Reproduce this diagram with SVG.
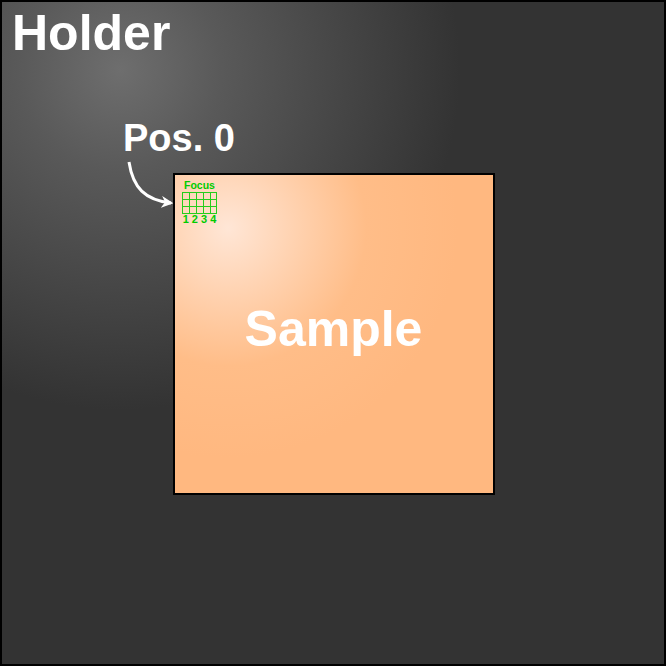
<svg xmlns="http://www.w3.org/2000/svg" width="667" height="667" viewBox="0 0 667 667">
<style>
.big{font-family:"Liberation Sans",Arial,sans-serif;font-weight:bold;fill:#ffffff}
.grn{font-family:"Liberation Sans",Arial,sans-serif;font-weight:bold;fill:#00cc00}
.grid{stroke:#00cc00;stroke-width:1;fill:none;opacity:0.85}
</style>
<defs>
<radialGradient id="hg" cx="120" cy="70" r="340" gradientUnits="userSpaceOnUse">
<stop offset="0" stop-color="#6e6e6e"/>
<stop offset="0.3" stop-color="#595959"/>
<stop offset="1" stop-color="#333333"/>
</radialGradient>
<radialGradient id="sg" cx="228" cy="228" r="230" gradientUnits="userSpaceOnUse">
<stop offset="0" stop-color="#ffe6d6"/>
<stop offset="0.6" stop-color="#ffbd88"/>
<stop offset="1" stop-color="#ffb880"/>
</radialGradient>
<marker id="ah" viewBox="0 0 10 10" refX="8" refY="5" markerWidth="4" markerHeight="4" orient="auto">
<path d="M0,0 L10,5 L0,10 L3,5 Z" fill="#ffffff"/>
</marker>
</defs>
<g id="holder">
<rect x="1" y="1" width="664" height="664" fill="url(#hg)" stroke="#000000" stroke-width="2"/>
<text class="big" x="12" y="50" font-size="50">Holder</text>
</g>
<g id="sample">
<rect x="174" y="174" width="320" height="320" fill="url(#sg)" stroke="#000000" stroke-width="2"/>
<text class="big" x="333.5" y="346" font-size="50" text-anchor="middle">Sample</text>
</g>
<g id="focus">
<text class="grn" x="199.5" y="189" font-size="10.5" text-anchor="middle">Focus</text>
<g class="grid">
<rect x="182.5" y="192.5" width="34" height="21"/>
<path d="M189.5,192.5V213.5M196.5,192.5V213.5M203.5,192.5V213.5M210.5,192.5V213.5M182.5,199.5H216.5M182.5,206.5H216.5"/>
</g>
<text class="grn" x="199.5" y="223" font-size="11" text-anchor="middle">1 2 3 4</text>
</g>
<g id="pos0">
<text class="big" x="123" y="151" font-size="38">Pos. 0</text>
</g>
<g id="connectors">
<path d="M129,162 C133,188 145,200 171,203" fill="none" stroke="#ffffff" stroke-width="3" marker-end="url(#ah)"/>
</g>
</svg>
